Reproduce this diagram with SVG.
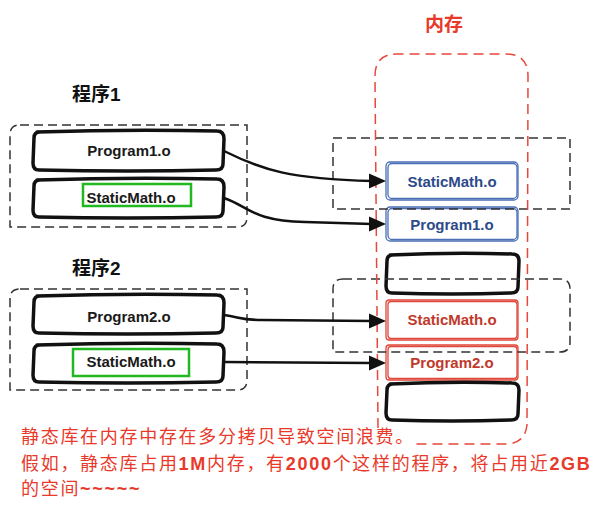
<svg xmlns="http://www.w3.org/2000/svg" width="605" height="510" viewBox="0 0 605 510">
  <style>
    .ttl { font-family: "Liberation Sans", "Noto Sans CJK SC", sans-serif; font-weight: bold; font-size: 19px; fill: #111; }
    .mem { font-family: "Liberation Sans", "Noto Sans CJK SC", sans-serif; font-weight: bold; font-size: 19px; fill: #e8392b; }
    .lbl { font-family: "Liberation Sans", "Noto Sans CJK SC", sans-serif; font-weight: bold; font-size: 15px; text-anchor: middle; }
    .dark { fill: #1a1a1a; }
    .blu { fill: #2d4a8a; }
    .rdt { fill: #c0392b; }
    .box { fill: #fff; stroke: #111; stroke-width: 3.5; stroke-linejoin: round; }
    .bbox { fill: #fff; stroke: #4a6fb5; stroke-width: 1.3; }
    .rbox { fill: #fff; stroke: #e0473a; stroke-width: 1.3; }
    .green { fill: none; stroke: #22b822; stroke-width: 2.5; }
    .dash { fill: none; stroke: #333; stroke-width: 1.5; stroke-dasharray: 9 5; }
    .rdash { fill: none; stroke: #e8473a; stroke-width: 1.5; stroke-dasharray: 10 6; }
    .conn { fill: none; stroke: #111; stroke-width: 2.5; }
    .note { font-family: "Liberation Sans", "Noto Sans CJK SC", sans-serif; font-size: 18px; fill: #e8392b; letter-spacing: 1.7px; }
    .b { font-weight: bold; }
  </style>

  <!-- titles -->
  <text class="mem" x="425" y="31">内存</text>
  <text class="ttl" x="72" y="101">程序1</text>
  <text class="ttl" x="72" y="275">程序2</text>

  <!-- program 1 object files -->
  <g id="prog1-main">
    <path class="box" d="M37,132 Q128,129 217,131 Q224,131 224,139 L223,164 Q223,170 216,170 Q128,172 39,170 Q33,170 33,163 L34,138 Q34,132 40,132 Z"/>
    <text class="lbl dark" x="129" y="156">Program1.o</text>
  </g>
  <g id="prog1-static">
    <path class="box" d="M37,180 Q128,177 217,179 Q224,179 224,187 L223,211 Q223,217 216,217 Q128,219 39,217 Q33,217 33,210 L34,186 Q34,180 40,180 Z"/>
    <rect class="green" x="83" y="184" width="108" height="22"/>
    <text class="lbl dark" x="131" y="203">StaticMath.o</text>
  </g>

  <!-- program 2 object files -->
  <g id="prog2-main">
    <path class="box" d="M37,296 Q128,293 217,295 Q224,295 224,303 L223,327 Q223,333 216,333 Q128,335 39,333 Q33,333 33,326 L34,302 Q34,296 40,296 Z"/>
    <text class="lbl dark" x="129" y="322">Program2.o</text>
  </g>
  <g id="prog2-static">
    <path class="box" d="M37,345 Q128,342 217,344 Q224,344 224,352 L223,376 Q223,382 216,382 Q128,384 39,382 Q33,382 33,375 L34,351 Q34,345 40,345 Z"/>
    <rect class="green" x="73" y="349" width="116" height="27"/>
    <text class="lbl dark" x="131" y="367">StaticMath.o</text>
  </g>

  <!-- memory slots -->
  <g id="mem-static1">
    <rect class="bbox" x="386" y="162" width="132" height="38" rx="4"/>
    <rect class="bbox" x="388" y="163.5" width="129" height="35" rx="4" fill="none"/>
    <text class="lbl blu" x="452" y="187">StaticMath.o</text>
  </g>
  <g id="mem-prog1">
    <rect class="bbox" x="386" y="207" width="132" height="34" rx="4"/>
    <rect class="bbox" x="388" y="208.5" width="129" height="31" rx="4" fill="none"/>
    <text class="lbl blu" x="452" y="230">Program1.o</text>
  </g>
  <g id="mem-free1">
    <path class="box" d="M390,255 Q452,252 512,254 Q519,254 519,261 L518,287 Q518,293 511,293 Q452,295 392,293 Q386,293 386,286 L387,261 Q387,255 393,255 Z"/>
  </g>
  <g id="mem-static2">
    <rect class="rbox" x="386" y="300" width="132" height="40" rx="3"/>
    <rect class="rbox" x="388" y="301.5" width="129" height="37" rx="3" fill="none"/>
    <text class="lbl rdt" x="452" y="325">StaticMath.o</text>
  </g>
  <g id="mem-prog2">
    <rect class="rbox" x="386" y="345" width="132" height="35" rx="3"/>
    <rect class="rbox" x="388" y="346.5" width="129" height="32" rx="3" fill="none"/>
    <text class="lbl rdt" x="452" y="368">Program2.o</text>
  </g>
  <g id="mem-free2">
    <path class="box" d="M390,384 Q452,381 512,383 Q519,383 519,390 L518,414 Q518,420 511,420 Q452,422 392,420 Q386,420 386,413 L387,390 Q387,384 393,384 Z"/>
  </g>

  <!-- process boundaries -->
  <g id="frames">
    <path class="dash" d="M20,125 L247,125 L247,217 Q247,227 237,227 L10,227 L10,135 Q10,125 20,125"/>
    <path class="dash" d="M20,289 L247,289 L247,380 Q247,390 237,390 L10,390 L10,299 Q10,289 20,289"/>
    <path class="dash" d="M333,138 L570,138 L570,209 L333,209 Z"/>
    <path class="dash" d="M343,279 L560,279 Q570,279 570,289 L570,342 Q570,352 560,352 L333,352 L333,289 Q333,279 343,279"/>
    <path class="rdash" d="M378,428 L375,76 Q375,54 397,54 L506,54 Q528,54 528,76 L527,425 Q525,443 507,444 L412,444"/>
  </g>

  <!-- links into memory, each with a filled arrowhead -->
  <g id="connectors">
    <path class="conn" d="M224,151 C262,170 290,179 372,181"/>
    <path fill="#111" d="M386,181 L369,173.5 L369,188.5 Z"/>
    <path class="conn" d="M224,198 C248,206 252,221 305,222 L372,224"/>
    <path fill="#111" d="M386,224 L369,216.5 L369,231.5 Z"/>
    <path class="conn" d="M224,315 C240,317 240,320 262,320 L372,321"/>
    <path fill="#111" d="M386,321 L369,313.5 L369,328.5 Z"/>
    <path class="conn" d="M224,362 L372,363"/>
    <path fill="#111" d="M386,363 L369,355.5 L369,370.5 Z"/>
  </g>

  <!-- notes -->
  <text class="note" x="21" y="443">静态库在内存中存在多分拷贝导致空间浪费。</text>
  <text class="note" x="21" y="470">假如，静态库占用<tspan class="b">1M</tspan>内存，有<tspan class="b">2000</tspan>个这样的程序，将占用近<tspan class="b">2GB</tspan></text>
  <text class="note" x="21" y="495">的空间<tspan class="b">~~~~~</tspan></text>
</svg>
